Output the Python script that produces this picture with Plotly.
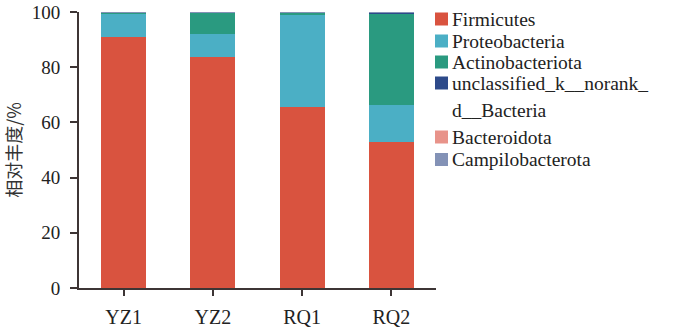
import plotly.graph_objects as go

samples = ["YZ1", "YZ2", "RQ1", "RQ2"]
firmicutes = [91.0, 83.8, 65.5, 52.8]
proteobacteria = [8.6, 8.2, 33.6, 13.6]
actinobacteriota = [0.3, 7.9, 0.7, 33.1]
unclassified = [0.05, 0.05, 0.1, 0.4]
bacteroidota = [0.03, 0.03, 0.05, 0.05]
campilobacterota = [0.02, 0.02, 0.05, 0.05]

names = ["Firmicutes", "Proteobacteria", "Actinobacteriota",
         "unclassified_k__norank_d__Bacteria", "Bacteroidota", "Campilobacterota"]
legend_lines = [["Firmicutes"], ["Proteobacteria"], ["Actinobacteriota"],
                ["unclassified_k__norank_", "d__Bacteria"], ["Bacteroidota"], ["Campilobacterota"]]
values = [firmicutes, proteobacteria, actinobacteriota, unclassified, bacteroidota, campilobacterota]
colors = ["#D9533F", "#4BAFC5", "#2A9A80", "#2D4A8A", "#E8938A", "#8392B6"]

serif = "Liberation Serif, Times New Roman, serif"
axis_col = "#3d3535"

W, H = 676, 331
ML, MR, MT, MB = 79, 240, 12, 43
PW, PH = W - ML - MR, H - MT - MB

# legend layout (pixel rows of the original)
legend_row_centers = [19, 41, 62, 83, 137, 159.5]
second_line_gap = 27
marker_x0, marker_size, text_x = 435, 13, 451


def px_x(p):
    return (p - ML) / PW


def px_y(p):
    return (H - MB - p) / PH


fig = go.Figure()
for name, vals, col in zip(names, values, colors):
    fig.add_trace(go.Bar(x=samples, y=vals, name=name, showlegend=False,
                         marker=dict(color=col, line=dict(width=0))))

for lines, col, cy in zip(legend_lines, colors, legend_row_centers):
    fig.add_shape(type="rect", xref="paper", yref="paper",
                  x0=px_x(marker_x0), x1=px_x(marker_x0 + marker_size),
                  y0=px_y(cy - marker_size / 2), y1=px_y(cy + marker_size / 2),
                  fillcolor=col, line=dict(width=0))
    for i, ln in enumerate(lines):
        fig.add_annotation(text=ln, xref="paper", yref="paper",
                           x=px_x(text_x), y=px_y(cy + i * second_line_gap),
                           xanchor="left", yanchor="middle", showarrow=False,
                           borderpad=0,
                           font=dict(family=serif, size=19.5, color="#222"))

fig.update_layout(
    barmode="stack",
    bargap=0.494,
    width=W, height=H,
    margin=dict(l=ML, r=MR, t=MT, b=MB, autoexpand=False),
    paper_bgcolor="white", plot_bgcolor="white",
    showlegend=False,
    font=dict(family=serif, color="#222"),
)
fig.update_xaxes(
    showline=True, linecolor=axis_col, linewidth=2,
    ticks="outside", ticklen=6, tickwidth=2, tickcolor=axis_col,
    tickfont=dict(family=serif, size=20, color="#222"),
    ticklabelstandoff=4,
    showgrid=False, zeroline=False,
)
fig.update_yaxes(
    range=[0, 100], dtick=20,
    showline=True, linecolor=axis_col, linewidth=2,
    ticks="outside", ticklen=7, tickwidth=2, tickcolor=axis_col,
    tickfont=dict(family=serif, size=19, color="#222"),
    ticklabelstandoff=6,
    showgrid=False, zeroline=False,
    title=dict(text="相对丰度/%", font=dict(family="Noto Sans CJK SC", size=18, color="#333"), standoff=8),
)

fig.write_html("out.html")
